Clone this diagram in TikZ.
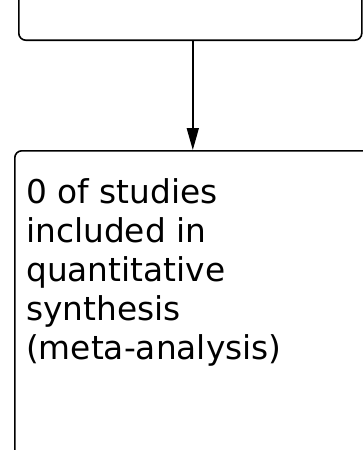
\documentclass[tikz,border=0pt]{standalone}
\usepackage{fontspec}
\setmainfont{DejaVu Sans}
\usetikzlibrary{arrows.meta,positioning}

\begin{document}
\begin{tikzpicture}[x=1pt,y=-1pt,>={Triangle[length=22pt,width=12pt]},
  box/.style={draw,line width=1.6pt,rounded corners=7pt,inner sep=0pt},
  boxtext/.style={inner sep=0pt,align=left,font=\fontsize{32.8}{39}\selectfont}]
  \clip (0,0) rectangle (363,450);
  \useasboundingbox (0,0) rectangle (363,450);
  % boxes, both cut by the page
  \node[box,minimum width=343pt,minimum height=140pt,anchor=south west] (screen) at (18,41) {};
  \node[box,minimum width=360pt,minimum height=330pt,anchor=north west] (synth) at (14,150) {};
  \node[boxtext,anchor=north west] (synthtext) at (26,178)
    {0 of studies\\included in\\quantitative\\synthesis\\(meta-analysis)};
  \draw[->,line width=1.6pt] ([xshift=2.5pt]screen.south) -- ([xshift=2.5pt]screen.south |- synth.north);
\end{tikzpicture}
\end{document}
